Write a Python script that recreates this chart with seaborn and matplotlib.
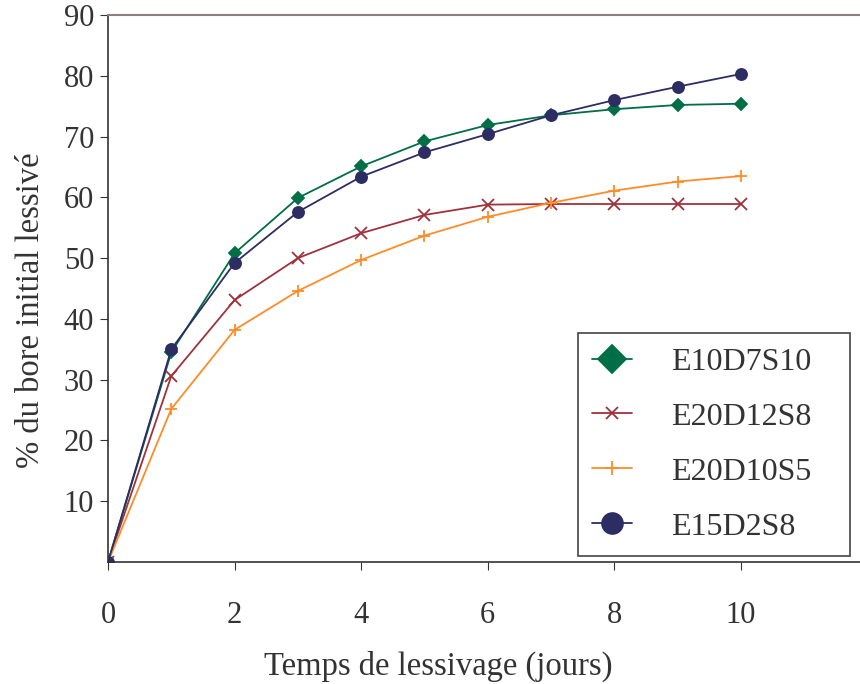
import matplotlib
matplotlib.use("Agg")
import matplotlib.pyplot as plt
from matplotlib.lines import Line2D
import seaborn as sns

# data
jours = [0, 1, 2, 3, 4, 5, 6, 7, 8, 9, 10]
e10d7s10 = [0, 34.5, 50.8, 59.9, 65.1, 69.2, 71.9, 73.5, 74.5, 75.2, 75.4]
e20d12s8 = [0, 30.6, 43.1, 50.0, 54.1, 57.1, 58.8, 58.9, 58.9, 58.9, 58.9]
e20d10s5 = [0, 25.2, 38.2, 44.6, 49.7, 53.7, 56.8, 59.1, 61.1, 62.6, 63.5]
e15d2s8 = [0, 35.0, 49.2, 57.6, 63.4, 67.4, 70.4, 73.5, 76.0, 78.2, 80.3]

noms = ["E10D7S10", "E20D12S8", "E20D10S5", "E15D2S8"]
couleurs = ["#006e46", "#a0323c", "#ff8c28", "#2d2d64"]
marqueurs = ["D", "x", "+", "o"]
tailles = [6, 8, 9, 8]
tailles_leg = [14, 9, 10, 15]

sns.set_style("white")
plt.rcParams['font.family'] = ['Liberation Serif', 'DejaVu Serif']

fig = plt.figure(figsize=(8.6, 6.84), dpi=100)
ax = fig.add_axes([108 / 860, 1 - 562 / 684, 1 - 108 / 860, (562 - 15) / 684])

series = [e10d7s10, e20d12s8, e20d10s5, e15d2s8]
for vals, nom, c, m, s in zip(series, noms, couleurs, marqueurs, tailles):
    sns.lineplot(x=jours, y=vals, ax=ax, color=c, marker=m, markersize=s,
                 markeredgecolor=c, markeredgewidth=1.3, linewidth=1.3,
                 label=nom, legend=False)

ax.set_xlim(0, 11.88)
ax.set_ylim(0, 90)
ax.set_yticks(range(10, 91, 10))
ax.set_xticks([0, 2, 4, 6, 8, 10])
ax.tick_params(axis='y', labelsize=22, length=6, direction='out', left=True,
               pad=4, colors='#333333', labelcolor='#333333')
ax.tick_params(axis='x', labelsize=22, length=6, direction='out', bottom=True,
               pad=22, colors='#333333', labelcolor='#333333')
for side in ['left', 'bottom']:
    ax.spines[side].set_color('#333333')
    ax.spines[side].set_linewidth(1.2)
ax.spines['top'].set_color('#8a8080')
ax.spines['top'].set_linewidth(1.5)
ax.spines['right'].set_visible(False)

ax.set_xlabel("Temps de lessivage (jours)", fontsize=23.5, color='#333333')
ax.set_ylabel("% du bore initial lessivé", fontsize=23.5, color='#333333')
ax.xaxis.set_label_coords(0.439, -0.162)
ax.yaxis.set_label_coords(-0.083, 0.46)

handles = [Line2D([0], [0], color=c, marker=m, markersize=s, markeredgecolor=c,
                  markeredgewidth=1.3, linewidth=1.3)
           for c, m, s in zip(couleurs, marqueurs, tailles_leg)]
leg = ax.legend(handles, noms, loc='upper left', mode='expand',
                bbox_to_anchor=(0.625, 0.0219, 0.3617, 0.3967),
                fontsize=23, frameon=True, fancybox=False, framealpha=1,
                edgecolor='#444444', handlelength=1.25, handletextpad=1.2,
                labelspacing=0.8, borderpad=0.45, borderaxespad=0)
leg.get_frame().set_linewidth(1.2)
for t in leg.get_texts():
    t.set_color('#333333')

fig.savefig("out.png", dpi=100)
